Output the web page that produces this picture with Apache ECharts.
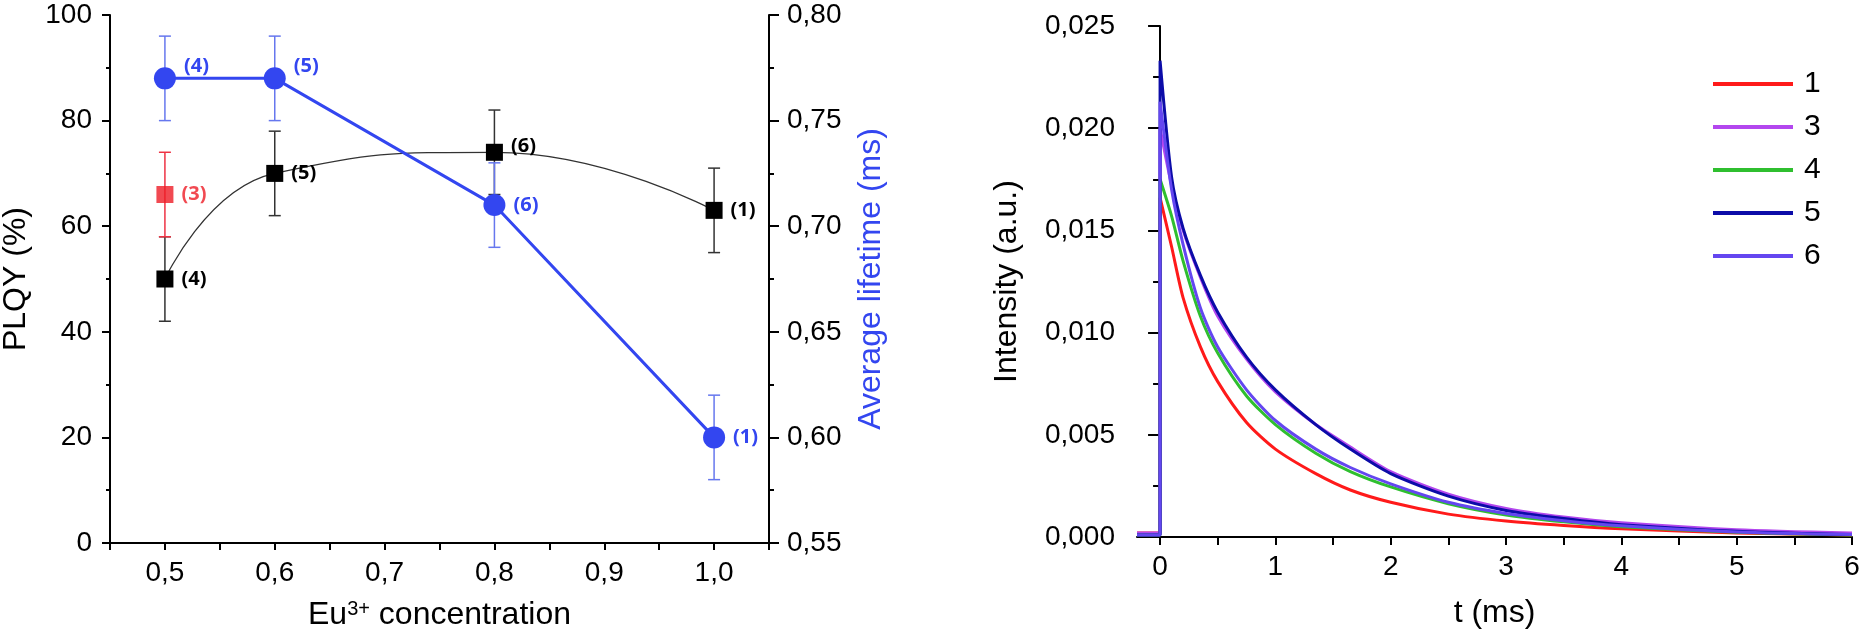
<!DOCTYPE html>
<html>
<head>
<meta charset="utf-8">
<script src="https://cdn.jsdelivr.net/npm/echarts@6/dist/echarts.min.js"></script>
<style>
  html, body { margin: 0; padding: 0; background: #fff; }
  #chart { width: 1864px; height: 638px; }
</style>
</head>
<body>
<div id="chart"></div>
<script>
// left panel: PLQY and lifetime vs Eu3+ concentration
const concX = [0.5, 0.6, 0.8, 1.0];
const plqy = [50, 70, 74, 63];
const plqyErr = [8, 8, 8, 8];
const plqyTags = ['(4)', '(5)', '(6)', '(1)'];

const refX = [0.5];
const refPlqy = [66];
const refErr = [8];
const refTags = ['(3)'];

const lifetime = [0.77, 0.77, 0.71, 0.60];
const lifetimeErr = [0.02, 0.02, 0.02, 0.02];
const lifeTags = ['(4)', '(5)', '(6)', '(1)'];

const concTicks = [0.45, 0.5, 0.55, 0.6, 0.65, 0.7, 0.75, 0.8, 0.85, 0.9, 0.95, 1.0, 1.05];
const concLabels = [0.5, 0.6, 0.7, 0.8, 0.9, 1.0];

// right panel: decay curves
const tDecay = [-0.2, 0, 0, 0.1, 0.2, 0.35, 0.5, 0.75, 1, 1.35, 1.65, 2, 2.5, 3, 3.5, 4, 5, 6];
const decay1 = [0.0002, 0.0002, 0.0166, 0.0142, 0.0117, 0.0093, 0.0076, 0.0056, 0.0043, 0.0031, 0.0023, 0.0017, 0.00112, 0.00078, 0.00056, 0.0004, 0.0002, 0.0001];
const decay3 = [0.0002, 0.0002, 0.0200, 0.0172, 0.0150, 0.0127, 0.0108, 0.0087, 0.0071, 0.0055, 0.0044, 0.0032, 0.0021, 0.0014, 0.00098, 0.0007, 0.00036, 0.0002];
const decay4 = [0.0001, 0.0001, 0.0175, 0.0157, 0.0135, 0.0108, 0.0090, 0.0069, 0.0055, 0.0041, 0.0032, 0.00245, 0.00163, 0.00108, 0.00074, 0.0005, 0.00023, 0.0001];
const decay5 = [0.0001, 0.0001, 0.0233, 0.0176, 0.0151, 0.0128, 0.0110, 0.0088, 0.0072, 0.0055, 0.0043, 0.0031, 0.0020, 0.0013, 0.0009, 0.0006, 0.00028, 0.00012];
const decay6 = [0.0001, 0.0001, 0.0213, 0.0170, 0.0143, 0.0112, 0.0093, 0.0072, 0.0057, 0.0043, 0.0034, 0.0026, 0.0017, 0.00115, 0.0008, 0.00055, 0.00025, 0.00012];
const decayNames = ['1', '3', '4', '5', '6'];
const decayColors = ['#ff1a1a', '#b347ee', '#2fbf2f', '#0c0ca8', '#6446f0'];
const timeTicks = [0, 0.5, 1, 1.5, 2, 2.5, 3, 3.5, 4, 4.5, 5, 5.5, 6];
const timeLabels = [0, 1, 2, 3, 4, 5, 6];

const FONT = "'Liberation Sans', Arial, sans-serif";
const BLUE = '#3346f0';
const comma = (v, n) => v.toFixed(n).replace('.', ',');

function errBars(color) {
  return function (params, api) {
    const x = api.value(0);
    const top = api.coord([x, api.value(2)]);
    const bot = api.coord([x, api.value(1)]);
    const w = 6;
    const style = { stroke: color, lineWidth: 1.5 };
    return {
      type: 'group',
      children: [
        { type: 'line', shape: { x1: top[0], y1: top[1], x2: bot[0], y2: bot[1] }, style: style },
        { type: 'line', shape: { x1: top[0] - w, y1: top[1], x2: top[0] + w, y2: top[1] }, style: style },
        { type: 'line', shape: { x1: bot[0] - w, y1: bot[1], x2: bot[0] + w, y2: bot[1] }, style: style }
      ]
    };
  };
}

function tagLabel(color) {
  return {
    show: true, position: 'right', distance: 8,
    color: color, fontFamily: "'Open Sans', sans-serif", fontWeight: 'bold', fontSize: 20
  };
}

const axisLine = { show: true, lineStyle: { color: '#000', width: 2 } };
const tickLabel = { color: '#000', fontFamily: FONT, fontSize: 28 };
const nameStyle = { color: '#000', fontFamily: FONT, fontSize: 32 };

const chart = echarts.init(document.getElementById('chart'));

const decaySeries = [decay1, decay3, decay4, decay5, decay6].map((ys, i) => ({
  name: decayNames[i],
  type: 'line',
  xAxisIndex: 1,
  yAxisIndex: 2,
  showSymbol: false,
  smooth: 0.25,
  lineStyle: { width: 3, color: decayColors[i] },
  itemStyle: { color: decayColors[i] },
  data: tDecay.map((t, k) => [t, ys[k]]),
  z: 2 + i
}));

chart.setOption({
  animation: false,
  backgroundColor: '#fff',
  grid: [
    { left: 110, right: 1095, top: 15, bottom: 95, containLabel: false, outerBoundsMode: 'none' },
    { left: 1137, right: 12, top: 26, bottom: 101, containLabel: false, outerBoundsMode: 'none' }
  ],
  legend: {
    data: decayNames,
    orient: 'vertical',
    left: 1708,
    top: 64,
    itemWidth: 80,
    itemHeight: 4,
    itemGap: 13,
    icon: 'rect',
    textStyle: { color: '#000', fontFamily: FONT, fontSize: 30, lineHeight: 30, padding: [0, 0, 0, 6] }
  },
  xAxis: [
    {
      type: 'value', gridIndex: 0, position: 'bottom', min: 0.45, max: 1.05,
      axisLine: axisLine,
      axisTick: { show: true, length: 7, customValues: concTicks, lineStyle: { color: '#000', width: 2 } },
      axisLabel: Object.assign({ margin: 16, customValues: concLabels, formatter: v => comma(v, 1) }, tickLabel),
      splitLine: { show: false },
      name: '{n|Eu}{s|3+}{n| concentration}',
      nameLocation: 'middle',
      nameGap: 56,
      nameTextStyle: {
        rich: {
          n: { fontFamily: FONT, fontSize: 32, color: '#000' },
          s: { fontFamily: FONT, fontSize: 20, color: '#000', verticalAlign: 'top' }
        }
      }
    },
    {
      type: 'value', gridIndex: 1, position: 'bottom', min: -0.2, max: 6,
      axisLine: axisLine,
      axisTick: { show: true, length: 8, customValues: timeTicks, lineStyle: { color: '#000', width: 2 } },
      axisLabel: Object.assign({ margin: 16, customValues: timeLabels, formatter: v => String(v) }, tickLabel),
      splitLine: { show: false },
      name: 't (ms)',
      nameLocation: 'middle',
      nameGap: 60,
      nameTextStyle: nameStyle
    }
  ],
  yAxis: [
    {
      type: 'value', gridIndex: 0, min: 0, max: 100, interval: 20,
      axisLine: axisLine,
      axisTick: { show: true, length: 8, lineStyle: { color: '#000', width: 2 } },
      minorTick: { show: true, splitNumber: 2, length: 4, lineStyle: { color: '#000', width: 2 } },
      axisLabel: Object.assign({ margin: 18 }, tickLabel),
      splitLine: { show: false },
      name: 'PLQY (%)',
      nameLocation: 'middle',
      nameGap: 78,
      nameTextStyle: nameStyle
    },
    {
      type: 'value', gridIndex: 0, position: 'right', min: 0.55, max: 0.80, interval: 0.05,
      axisLine: axisLine,
      axisTick: { show: true, length: 10, lineStyle: { color: '#000', width: 2 } },
      minorTick: { show: true, splitNumber: 2, length: 5, lineStyle: { color: '#000', width: 2 } },
      axisLabel: Object.assign({ margin: 18, formatter: v => comma(v, 2) }, tickLabel),
      splitLine: { show: false },
      name: 'Average lifetime (ms)',
      nameLocation: 'middle',
      nameGap: 86,
      nameRotate: 90,
      nameTextStyle: Object.assign({}, nameStyle, { color: BLUE })
    },
    {
      type: 'value', gridIndex: 1, min: 0, max: 0.025, interval: 0.005,
      axisLine: axisLine,
      axisTick: { show: true, length: 12, lineStyle: { color: '#000', width: 2 } },
      minorTick: { show: true, splitNumber: 2, length: 7, lineStyle: { color: '#000', width: 2 } },
      axisLabel: Object.assign({ margin: 22, formatter: v => comma(v, 3) }, tickLabel),
      splitLine: { show: false },
      name: 'Intensity (a.u.)',
      nameLocation: 'middle',
      nameGap: 114,
      nameTextStyle: nameStyle
    }
  ],
  series: [
    {
      type: 'custom', xAxisIndex: 0, yAxisIndex: 0,
      renderItem: errBars('#333'),
      encode: { x: 0, y: [1, 2] },
      data: concX.map((x, i) => [x, plqy[i] - plqyErr[i], plqy[i] + plqyErr[i]]),
      z: 1
    },
    {
      type: 'custom', xAxisIndex: 0, yAxisIndex: 0,
      renderItem: errBars('#ee3344'),
      encode: { x: 0, y: [1, 2] },
      data: refX.map((x, i) => [x, refPlqy[i] - refErr[i], refPlqy[i] + refErr[i]]),
      z: 1
    },
    {
      type: 'custom', xAxisIndex: 0, yAxisIndex: 1,
      renderItem: errBars('#6677ee'),
      encode: { x: 0, y: [1, 2] },
      data: concX.map((x, i) => [x, lifetime[i] - lifetimeErr[i], lifetime[i] + lifetimeErr[i]]),
      z: 1
    },
    {
      name: 'PLQY', type: 'line', xAxisIndex: 0, yAxisIndex: 0,
      smooth: 0.5,
      symbol: 'rect', symbolSize: 17,
      lineStyle: { color: '#333', width: 1.3 },
      itemStyle: { color: '#000' },
      label: Object.assign(tagLabel('#000'), { formatter: p => plqyTags[p.dataIndex] }),
      data: concX.map((x, i) => ({ value: [x, plqy[i]], label: i === 2 ? { offset: [0, -6] } : {} })),
      z: 3
    },
    {
      name: 'ref', type: 'scatter', xAxisIndex: 0, yAxisIndex: 0,
      symbol: 'rect', symbolSize: 17,
      itemStyle: { color: '#ee1c25' },
      label: Object.assign(tagLabel('#ee1c25'), { formatter: p => refTags[p.dataIndex] }),
      data: refX.map((x, i) => [x, refPlqy[i]]),
      z: 3
    },
    {
      name: 'lifetime', type: 'line', xAxisIndex: 0, yAxisIndex: 1,
      symbol: 'circle', symbolSize: 22,
      lineStyle: { color: BLUE, width: 3 },
      itemStyle: { color: BLUE },
      label: Object.assign(tagLabel(BLUE), { formatter: p => lifeTags[p.dataIndex] }),
      data: concX.map((x, i) => ({ value: [x, lifetime[i]], label: i < 2 ? { offset: [0, -12] } : {} })),
      z: 4
    }
  ].concat(decaySeries)
});
</script>
</body>
</html>
